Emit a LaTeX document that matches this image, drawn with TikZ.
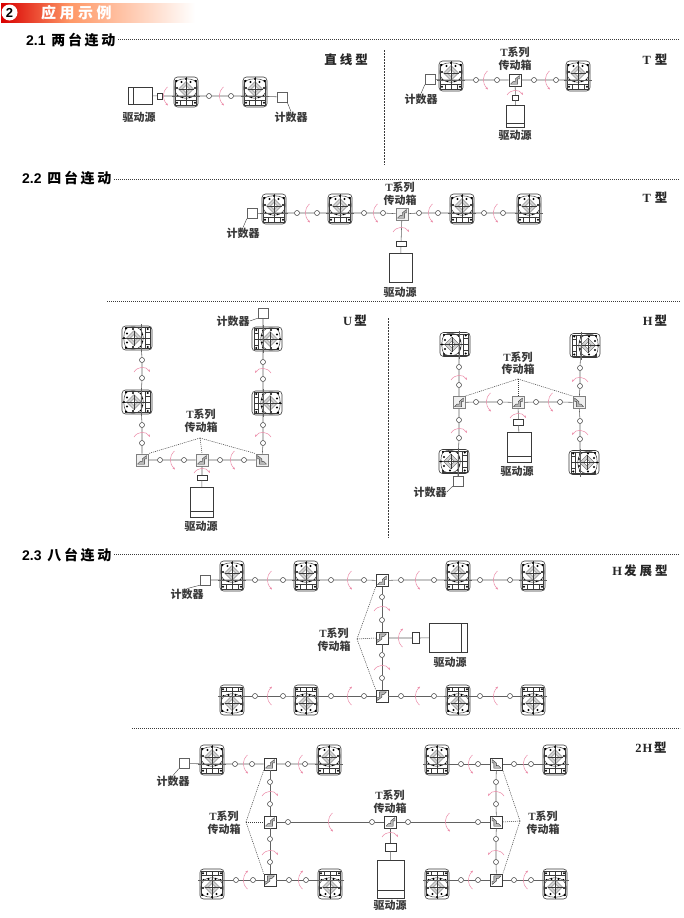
\documentclass[tikz,border=0pt]{standalone}
\usepackage{fontspec}
\setmainfont{Liberation Serif}
\setsansfont{Liberation Sans}
\newfontfamily\cjk{Noto Sans CJK SC}
\usetikzlibrary{arrows.meta,shapes.geometric}
\definecolor{ink}{HTML}{3A3A3A}
\definecolor{rotc}{HTML}{EC8BA8}
\tikzset{
 ln/.style={draw=ink,line width=0.5pt},
 shaft/.style={draw=ink!80,line width=0.55pt},
 rtbox/.style={draw=ink,line width=0.6pt,rounded corners=3.5pt,minimum width=24pt,minimum height=30pt,inner sep=0pt,fill=white},
 cpl/.style={circle,draw=ink,line width=0.5pt,fill=white,minimum size=5pt,inner sep=0pt},
 cplbox/.style={draw=ink,line width=0.5pt,fill=white,inner sep=0pt},
 motor/.style={draw=ink,line width=0.55pt,fill=white,inner sep=0pt},
 cntbox/.style={draw=ink!80,line width=0.5pt,fill=white,minimum size=10pt,inner sep=0pt},
 tbx/.style={draw=ink,line width=0.6pt,fill=white,minimum size=12pt,inner sep=0pt},
 tbg/.style={draw=gray,line width=0.9pt,fill=gray!12,minimum size=12pt,inner sep=0pt},
 rot/.style={draw=rotc,line width=0.5pt,-{Stealth[length=2.6pt,width=2pt]}},
 pnt/.style={draw=ink,line width=0.5pt,dash pattern=on 1pt off 1pt},
 lead/.style={draw=ink,line width=0.4pt},
 sep/.style={draw=ink,line width=0.6pt,dash pattern=on 0.9pt off 1.1pt},
 lbl/.style={font=\cjk\bfseries\fontsize{11}{12.5}\selectfont,text=ink,inner sep=0pt,align=center},
 kind/.style={font=\cjk\bfseries\fontsize{12.5}{14}\selectfont,text=black!85,inner sep=0pt},
 head/.style={font=\cjk\bfseries\fontsize{14}{15}\selectfont,text=black,inner sep=0pt,anchor=west},
}
% rotary table: name,x,y,rotation (0 = bar below, 90 = bar right, 180 = bar top, -90 = bar left)
\newcommand{\RT}[4]{%
 \node[rtbox,rotate=#4] (#1) at (#2,#3) {};
 \begin{scope}[shift={(#2,#3)},rotate=#4]
  \draw[ln,line width=0.35pt] (0,-15)--(0,13);
  \draw[ln,line width=0.4pt] (-10.5,8.5) rectangle (10.5,13);
  \draw[ln,line width=0.35pt] (-6,8.5)--(-6,13) (6,8.5)--(6,13) (-10.5,-12)--(-10.5,8.5) (10.5,-12)--(10.5,8.5);
  \draw[ln,line width=0.5pt] (-9.5,-11) .. controls (-5,-14) and (5,-14) .. (9.5,-11);
  \draw[ln,line width=0.5pt] (-9.5,-11) .. controls (-12,-6) and (-12,0) .. (-8,4);
  \draw[ln,line width=0.5pt] (9.5,-11) .. controls (12,-6) and (12,0) .. (8,4);
  \draw[ln,line width=0.5pt] (-8,4) .. controls (-4,7) and (4,7) .. (8,4);
  \draw[ln,line width=0.3pt,fill=gray!35] (0,-10.5)--(7.5,-3)--(0,4.5)--(-7.5,-3)--cycle;
  \draw[ln,line width=0.3pt,fill=white] (0,-6.5)--(3.5,-3)--(0,0.5)--(-3.5,-3)--cycle;
  \draw[ln,line width=0.3pt] (-7.5,-3)--(7.5,-3) (0,-10.5)--(0,4.5);
  \foreach \px/\py in {-9.5/-11,9.5/-11,-4.5/-10,4.5/-10,-9/-4,9/-4,-8.5/4,8.5/4,-3.5/5,3.5/5,0/-13,-9/10.7,9/10.7}
   \fill[black] (\px,\py) circle (1.15);
  \coordinate (#1s) at (0,4);
  \draw[shaft] (-14,4)--(14,4);
 \end{scope}}
% T gearbox: name,x,y,style,xflip,yflip
\newcommand{\TB}[6]{%
 \node[#4] (#1) at (#2,#3) {};
 \begin{scope}[shift={(#2,#3)},xscale=#5,yscale=#6]
  \draw[ink,line width=0.4pt,line join=round,fill=gray!55] (-4.5,4.2)--(2.6,4.2)--(2.6,-1.2)--(4.5,-1.2)--(4.5,-4.5)--(0.2,-1)--(0.2,1.6)--(-2,1.6)--(-4.5,4.2)--cycle;
 \end{scope}}
\newcommand{\CP}[3]{\node[cpl] (#1) at (#2,#3) {};}
\newcommand{\AH}[3]{\draw[rot,shift={(#1,#2)},yscale=#3] (2.5,-9) .. controls (-3,-4) and (-3,3) .. (3,9.5);}
\newcommand{\AV}[3]{\draw[rot,shift={(#1,#2)},xscale=#3] (-8,3) .. controls (-4,-3) and (4,-3) .. (8,3);}
% motor: name, left, top, width, height
\newcommand{\MT}[5]{\node[motor,anchor=north west,minimum width=#4pt,minimum height=#5pt] (#1) at (#2,#3) {};}
\newcommand{\CB}[5]{\node[cplbox,minimum width=#4pt,minimum height=#5pt] (#1) at (#2,#3) {};}
\newcommand{\CN}[3]{\node[cntbox] (#1) at (#2,#3) {};}
\newcommand{\LTs}{{\rmfamily T}系列\\传动箱}
\newcommand{\hk}{\kern2.6pt}
\begin{document}
\begin{tikzpicture}[x=1pt,y=-1pt]
\useasboundingbox (0,0) rectangle (683,918);
\fill[white] (0,0) rectangle (683,918);
% banner
\shade[left color=red!85!black,right color=orange!65!red!60] (1,3) rectangle (70,22);
\shade[left color=orange!65!red!60,right color=white] (70,3) rectangle (195,22);
\node[circle,fill=white,minimum size=16pt,inner sep=0pt,font=\sffamily\bfseries\fontsize{13}{13}\selectfont] (badge) at (9.5,12.5) {2};
\node[font=\cjk\bfseries\fontsize{15}{15}\selectfont,text=white,anchor=west,inner sep=0pt] (bannertxt) at (41,12.5) {应\kern3.5pt 用\kern3.5pt 示\kern3.5pt 例};
% section heads
\node[head] (h21) at (26,40) {{\sffamily 2.1} \hk 两\hk 台\hk 连\hk 动};
\coordinate (h21e) at (680,39);
\draw[sep] (h21.east)+(3,-1) -- (h21e);
\node[head] (h22) at (22,178) {{\sffamily 2.2} \hk 四\hk 台\hk 连\hk 动};
\coordinate (h22e) at (680,179);
\draw[sep] (h22.east)+(3,1) -- (h22e);
\node[head] (h23) at (22,555) {{\sffamily 2.3} \hk 八\hk 台\hk 连\hk 动};
\coordinate (h23e) at (680,554);
\draw[sep] (h23.east)+(3,-1) -- (h23e);
\draw[sep] (107,301) -- (680,301);
\draw[sep] (132,728) -- (680,728);
\draw[sep,dash pattern=on 1.5pt off 1.5pt] (384,50) -- (384,165);
\draw[sep,dash pattern=on 1.5pt off 1.5pt] (388,318) -- (388,538);
% kinds
\node[kind] (k1) at (346,60) {直\kern3pt 线\kern3pt 型};
\node[kind] (k2) at (655,60) {{\rmfamily T}\kern4pt 型};
\node[kind] (k3) at (655,198) {{\rmfamily T}\kern4pt 型};
\node[kind] (k4) at (355,321) {{\rmfamily U}\kern2pt 型};
\node[kind] (k5) at (655,321) {{\rmfamily H}\kern2pt 型};
\node[kind] (k6) at (640,571) {{\rmfamily H}\kern2pt 发\kern3pt 展\kern3pt 型};
\node[kind] (k7) at (651,748) {{\rmfamily 2\kern1pt H}\kern2pt 型};

%%% A: straight
\RT{a1}{186}{92}{0}\RT{a2}{255}{92}{0}
\MT{am}{128}{87}{24}{17}
\draw[ln] (133,87)--(133,104);
\CB{ac}{159.5}{96}{5}{6}
\CP{ap}{209}{96}\CP{aq}{231}{96}
\CN{an}{282}{97}
\draw[shaft] (am)--(ac)--(a1s)--(ap)--(aq)--(a2s)--(an);
\AH{165}{96}{1}\AH{221}{96}{1}
\node[lbl] (al) at (139,117) {驱动源};
\node[lbl] (ak) at (291,117) {计数器};
\draw[lead] (an.south east)--(ak.north);

%%% B: T
\RT{b1}{451}{76}{0}\RT{b2}{578}{76}{0}
\CN{bn}{430}{79.5}
\TB{bt}{515}{80}{tbx}{1}{1}
\CP{bp}{476}{80}\CP{bq}{497}{80}\CP{br}{534}{80}\CP{bs}{556}{80}
\CB{bc}{515.5}{97.5}{6}{5}
\MT{bm}{506}{105}{18}{22}
\draw[ln] (506,123)--(524,123);
\draw[shaft] (bn)--(b1s)--(bp)--(bq)--(bt)--(br)--(bs)--(b2s);
\draw[shaft] (bt)--(bc)--(bm);
\AH{485}{80}{1}\AH{547}{80}{1}\AV{515}{92}{1}
\node[lbl] (btl) at (515,59) {\LTs};
\node[lbl] (bl) at (515,135) {驱动源};
\node[lbl] (bk) at (421,99) {计数器};
\draw[lead] (bn.south west)--(bk.north);

%%% C: 2.2 T
\RT{c1}{274}{209}{0}\RT{c2}{340}{209}{0}\RT{c3}{462}{209}{0}\RT{c4}{529}{209}{0}
\CN{cn}{252}{213.5}
\TB{ct}{402}{214}{tbg}{1}{1}
\CP{cp1}{297}{213}\CP{cp2}{317}{213}\CP{cp3}{364}{213}\CP{cp4}{383}{213}
\CP{cp5}{419}{213}\CP{cp6}{438}{213}\CP{cp7}{484}{213}\CP{cp8}{503}{213}
\CB{cc}{401}{244}{10}{5}
\MT{cm}{389}{253}{23}{29}
\draw[shaft] (cn)--(c1s)--(cp1)--(cp2)--(c2s)--(cp3)--(cp4)--(ct)--(cp5)--(cp6)--(c3s)--(cp7)--(cp8)--(c4s);
\draw[shaft] (ct)--(cc)--(cm);
\AH{307}{213}{1}\AH{375}{213}{1}\AH{430}{213}{1}\AH{495}{213}{1}\AV{401}{229}{1}
\node[lbl] (ctl) at (400,194) {\LTs};
\node[lbl] (cl) at (400,292) {驱动源};
\node[lbl] (ck) at (243,233) {计数器};
\draw[lead] (cn.south west)--(ck.north);

%%% U
\RT{u1}{137}{338}{90}\RT{u2}{137}{402}{90}\RT{u3}{267}{339}{-90}\RT{u4}{267}{403}{-90}
\TB{ut1}{142}{460}{tbg}{1}{1}\TB{ut2}{202}{460}{tbg}{1}{1}\TB{ut3}{262}{460}{tbg}{-1}{1}
\CP{up1}{142}{360}\CP{up2}{142}{378}\CP{up3}{142}{425}\CP{up4}{142}{443}
\CP{uq1}{263}{362}\CP{uq2}{263}{379}\CP{uq3}{263}{425}\CP{uq4}{263}{443}
\CP{ur1}{160}{460}\CP{ur2}{184}{460}\CP{ur3}{220}{460}\CP{ur4}{244}{460}
\CN{un}{263}{313}
\CB{uc}{202}{477.5}{10}{5}
\MT{um}{190}{487}{23}{30}
\draw[ln] (190,511)--(213,511);
\draw[shaft] (u1s)--(up1)--(up2)--(u2s)--(up3)--(up4)--(ut1)--(ur1)--(ur2)--(ut2)--(ur3)--(ur4)--(ut3)--(uq4)--(uq3)--(u4s)--(uq2)--(uq1)--(u3s)--(un);
\draw[shaft] (ut2)--(uc)--(um);
\AH{172}{460}{1}\AH{232}{460}{1}
\AV{142}{369}{1}\AV{142}{434}{1}\AV{263}{370}{-1}\AV{263}{434}{-1}\AV{202}{470}{1}
\node[lbl] (utl) at (201,421) {\LTs};
\coordinate (ua) at (200,438);
\draw[pnt] (ua)--(ut1.north east);
\draw[pnt] (ua)--(ut2.north);
\draw[pnt] (ua)--(ut3.north west);
\node[lbl] (ul) at (201,526) {驱动源};
\node[lbl] (uk) at (233,321) {计数器};
\draw[lead] (uk.east)--(un.south west);

%%% H
\RT{h1}{455}{344.5}{90}\RT{h2}{585}{345.5}{-90}\RT{h3}{454}{461.5}{90}\RT{h4}{584}{462.5}{-90}
\TB{ht1}{459}{402.5}{tbg}{1}{1}\TB{ht2}{518}{402.5}{tbg}{1}{1}\TB{ht3}{579}{402.5}{tbg}{-1}{1}
\CP{hp1}{459}{367}\CP{hp2}{459}{385}\CP{hp3}{459}{420}\CP{hp4}{459}{438}
\CP{hq1}{580}{368}\CP{hq2}{580}{386}\CP{hq3}{580}{421}\CP{hq4}{580}{439}
\CP{hr1}{476}{402}\CP{hr2}{500}{402}\CP{hr3}{536}{402}\CP{hr4}{560}{402}
\CN{hn}{458}{481}
\CB{hc}{518.5}{422}{10}{5.5}
\MT{hm}{507}{432}{24}{30}
\draw[ln] (507,456)--(531,456);
\draw[shaft] (h1s)--(hp1)--(hp2)--(ht1)--(hp3)--(hp4)--(h3s)--(hn);
\draw[shaft] (h2s)--(hq1)--(hq2)--(ht3)--(hq3)--(hq4)--(h4s);
\draw[shaft] (ht1)--(hr1)--(hr2)--(ht2)--(hr3)--(hr4)--(ht3);
\draw[shaft] (ht2)--(hc)--(hm);
\AH{488}{402}{1}\AH{550}{402}{1}
\AV{459}{377}{1}\AV{459}{430}{1}\AV{580}{379}{-1}\AV{580}{432}{-1}\AV{518}{415}{1}
\node[lbl] (htl) at (518,363.5) {\LTs};
\coordinate (ha) at (518,379);
\draw[pnt] (ha)--(ht1.north east);
\draw[pnt] (ha)--(ht2.north);
\draw[pnt] (ha)--(ht3.north west);
\node[lbl] (hl) at (517,471) {驱动源};
\node[lbl] (hk) at (430,492) {计数器};
\draw[lead] (hk.east)--(hn.south west);

%%% 2.3 H extended
\RT{e1}{232}{576}{0}\RT{e2}{306}{576}{0}\RT{e3}{458}{576}{0}\RT{e4}{533}{576}{0}
\RT{e5}{232}{700}{180}\RT{e6}{306}{700}{180}\RT{e7}{458}{700}{180}\RT{e8}{533}{700}{180}
\CN{en}{205}{580}
\TB{et1}{382}{580.5}{tbx}{1}{1}\TB{et2}{382}{638}{tbx}{-1}{-1}\TB{et3}{382}{696}{tbx}{-1}{-1}
\CP{ep1}{255}{580}\CP{ep2}{283}{580}\CP{ep3}{331}{580}\CP{ep4}{364}{580}
\CP{ep5}{401}{580}\CP{ep6}{434}{580}\CP{ep7}{480}{580}\CP{ep8}{510}{580}
\CP{er1}{255}{696}\CP{er2}{283}{696}\CP{er3}{331}{696}\CP{er4}{364}{696}
\CP{er5}{401}{696}\CP{er6}{434}{696}\CP{er7}{480}{696}\CP{er8}{510}{696}
\CP{ev1}{382}{597}\CP{ev2}{382}{620}\CP{ev3}{382}{655}\CP{ev4}{382}{678}
\CB{ec}{416}{638}{7}{11}
\MT{em}{429}{623}{38}{29}
\draw[ln] (461,623)--(461,652);
\draw[shaft] (en)--(e1s)--(ep1)--(ep2)--(e2s)--(ep3)--(ep4)--(et1)--(ep5)--(ep6)--(e3s)--(ep7)--(ep8)--(e4s);
\draw[shaft] (e5s)--(er1)--(er2)--(e6s)--(er3)--(er4)--(et3)--(er5)--(er6)--(e7s)--(er7)--(er8)--(e8s);
\draw[shaft] (et1)--(ev1)--(ev2)--(et2)--(ev3)--(ev4)--(et3);
\draw[shaft] (et2)--(ec)--(em);
\AH{269}{580}{1}\AH{349}{580}{1}\AH{417}{580}{1}\AH{495}{580}{1}
\AH{269}{696}{-1}\AH{349}{696}{-1}\AH{417}{696}{-1}\AH{495}{696}{-1}
\AV{382}{608}{1}\AV{382}{667}{1}\AH{400}{638}{-1}
\node[lbl] (etl) at (334,640) {\LTs};
\coordinate (ea) at (357,639);
\draw[pnt] (ea)--(et1.south west);
\draw[pnt] (ea)--(et2.west);
\draw[pnt] (ea)--(et3.north west);
\node[lbl] (el) at (450,662) {驱动源};
\node[lbl] (ek) at (187,594) {计数器};
\draw[lead] (en.south west)--(ek.north);

%%% 2H
\RT{g1}{212}{760}{0}\RT{g2}{329}{760}{0}\RT{g3}{437}{760}{0}\RT{g4}{555}{760}{0}
\RT{g5}{212}{884}{180}\RT{g6}{330}{884}{180}\RT{g7}{437}{884}{180}\RT{g8}{555}{884}{180}
\CN{gn}{184}{763.5}
\TB{gt1}{270}{764}{tbx}{1}{1}\TB{gt2}{270}{822}{tbx}{1}{1}\TB{gt3}{270}{880}{tbx}{-1}{-1}
\TB{gt4}{496.5}{764}{tbx}{-1}{1}\TB{gt5}{496.5}{822}{tbx}{-1}{1}\TB{gt6}{496.5}{880}{tbx}{-1}{-1}
\TB{gt7}{390.5}{822}{tbx}{1}{1}
\CP{gp1}{235}{764}\CP{gp2}{252}{764}\CP{gp3}{288}{764}\CP{gp4}{305}{764}
\CP{gp5}{461}{764}\CP{gp6}{478}{764}\CP{gp7}{514}{764}\CP{gp8}{531}{764}
\CP{gr1}{236}{880}\CP{gr2}{253}{880}\CP{gr3}{289}{880}\CP{gr4}{306}{880}
\CP{gr5}{461}{880}\CP{gr6}{478}{880}\CP{gr7}{514}{880}\CP{gr8}{531}{880}
\CP{gv1}{270}{782}\CP{gv2}{270}{804}\CP{gv3}{270}{839}\CP{gv4}{270}{862}
\CP{gw1}{496}{782}\CP{gw2}{496}{804}\CP{gw3}{496}{839}\CP{gw4}{496}{862}
\CP{gm1}{288}{822}\CP{gm2}{372}{822}\CP{gm3}{408}{822}\CP{gm4}{478}{822}
\CB{gc}{390.5}{847}{11}{8}
\MT{gm}{377}{860}{27}{38}
\draw[ln] (377,890)--(404,890);
\draw[shaft] (gn)--(g1s)--(gp1)--(gp2)--(gt1)--(gp3)--(gp4)--(g2s);
\draw[shaft] (g3s)--(gp5)--(gp6)--(gt4)--(gp7)--(gp8)--(g4s);
\draw[shaft] (g5s)--(gr1)--(gr2)--(gt3)--(gr3)--(gr4)--(g6s);
\draw[shaft] (g7s)--(gr5)--(gr6)--(gt6)--(gr7)--(gr8)--(g8s);
\draw[shaft] (gt1)--(gv1)--(gv2)--(gt2)--(gv3)--(gv4)--(gt3);
\draw[shaft] (gt4)--(gw1)--(gw2)--(gt5)--(gw3)--(gw4)--(gt6);
\draw[shaft] (gt2)--(gm1)--(gm2)--(gt7)--(gm3)--(gm4)--(gt5);
\draw[shaft] (gt7)--(gc)--(gm);
\AH{245}{764}{1}\AH{300}{764}{1}\AH{470}{764}{1}\AH{525}{764}{1}
\AH{245}{880}{-1}\AH{300}{880}{-1}\AH{470}{880}{-1}\AH{525}{880}{-1}
\AH{330}{822}{1}\AH{447}{822}{1}
\AV{270}{793}{1}\AV{270}{852}{1}\AV{496}{793}{-1}\AV{496}{852}{-1}\AV{390}{834}{1}
\node[lbl] (gtl) at (390,802) {\LTs};
\node[lbl] (gtm) at (224,823) {\LTs};
\node[lbl] (gtn) at (543,823) {\LTs};
\coordinate (ga) at (246,822);
\coordinate (gb) at (520,821);
\draw[pnt] (ga)--(gt1.south west);
\draw[pnt] (ga)--(gt2.west);
\draw[pnt] (ga)--(gt3.north west);
\draw[pnt] (gb)--(gt4.south east);
\draw[pnt] (gb)--(gt5.east);
\draw[pnt] (gb)--(gt6.north east);
\node[lbl] (gl) at (390,905) {驱动源};
\node[lbl] (gk) at (173,781) {计数器};
\draw[lead] (gn.south west)--(gk.north);
\end{tikzpicture}
\end{document}
